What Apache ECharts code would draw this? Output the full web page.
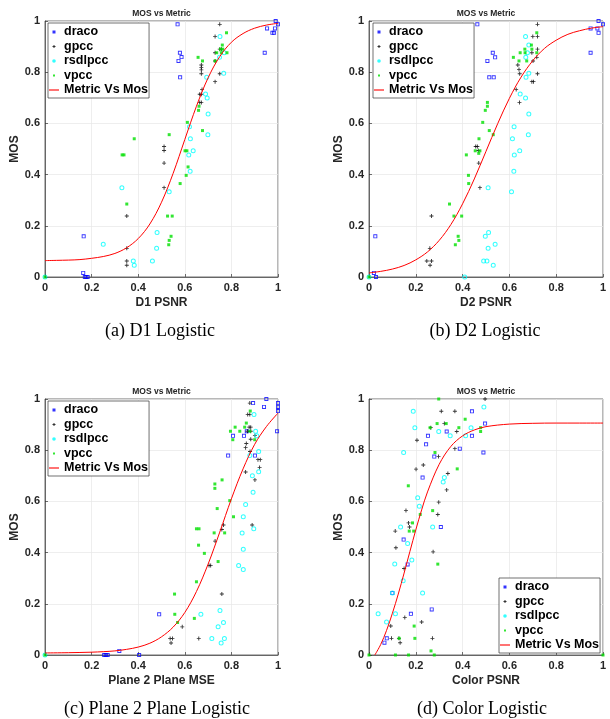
<!DOCTYPE html>
<html><head><meta charset="utf-8">
<script src="https://cdn.jsdelivr.net/npm/echarts@6/dist/echarts.min.js"></script>
<style>html,body{margin:0;padding:0;background:#fff}#c{width:610px;height:719px}</style>
</head><body><div id="c"></div><script>
// ---------- data ----------
const panelTitles = ['MOS vs Metric','MOS vs Metric','MOS vs Metric','MOS vs Metric'];
const xNames = ['D1 PSNR','D2 PSNR','Plane 2 Plane MSE','Color PSNR'];
const captions = ['(a) D1 Logistic','(b) D2 Logistic','(c) Plane 2 Plane Logistic','(d) Color Logistic'];
const seriesNames = ['draco','gpcc','rsdlpcc','vpcc'];
const curveName = 'Metric Vs Mos';
const tickValues = [0,0.2,0.4,0.6,0.8,1];

const aDraco = [[0.569,0.987],[0.579,0.876],[0.586,0.859],[0.573,0.844],[0.58,0.78],[0.99,1.0],[1.0,0.987],[0.953,0.971],[0.987,0.971],[0.976,0.954],[0.983,0.954],[0.943,0.876],[0.166,0.159],[0.164,0.016],[0.171,0],[0.177,0],[0.183,0]];
const aGpcc = [[0.75,0.987],[0.73,0.939],[0.75,0.89],[0.757,0.89],[0.73,0.876],[0.73,0.844],[0.671,0.828],[0.671,0.818],[0.671,0.809],[0.671,0.794],[0.75,0.794],[0.73,0.763],[0.674,0.732],[0.664,0.714],[0.671,0.714],[0.664,0.682],[0.671,0.682],[0.511,0.51],[0.511,0.494],[0.511,0.445],[0.511,0.349],[0.351,0.238],[0.351,0.112],[0.351,0.0625],[0.351,0.046]];
const aRsdlpcc = [[0.751,0.939],[0.749,0.858],[0.769,0.876],[0.767,0.796],[0.694,0.78],[0.689,0.715],[0.696,0.699],[0.7,0.637],[0.62,0.587],[0.699,0.556],[0.624,0.54],[0.636,0.493],[0.617,0.477],[0.623,0.413],[0.533,0.333],[0.33,0.349],[0.481,0.174],[0.479,0.112],[0.25,0.128],[0.379,0.0625],[0.383,0.046],[0.461,0.0625],[0,0]];
const aVpcc = [[0.779,0.954],[0.761,0.906],[0.753,0.89],[0.763,0.89],[0.737,0.876],[0.757,0.876],[0.781,0.876],[0.73,0.844],[0.676,0.844],[0.657,0.858],[0.661,0.667],[0.659,0.651],[0.611,0.604],[0.676,0.572],[0.533,0.556],[0.383,0.54],[0.331,0.477],[0.339,0.477],[0.601,0.493],[0.609,0.493],[0.614,0.43],[0.606,0.397],[0.58,0.365],[0.351,0.285],[0.526,0.238],[0.546,0.238],[0.541,0.159],[0.533,0.143],[0.531,0.126],[0,0]];
const aCurve = [[0,0.064],[0.05,0.065],[0.1,0.066],[0.15,0.068],[0.2,0.073],[0.25,0.080],[0.3,0.092],[0.35,0.114],[0.4,0.150],[0.45,0.207],[0.5,0.292],[0.55,0.405],[0.6,0.537],[0.65,0.667],[0.7,0.778],[0.75,0.861],[0.8,0.917],[0.85,0.951],[0.9,0.972],[0.95,0.984],[1,0.991]];

const bDraco = [[0.463,0.987],[0.529,0.876],[0.539,0.858],[0.506,0.844],[0.514,0.78],[0.533,0.78],[0.981,1.0],[1.0,0.987],[0.947,0.971],[0.976,0.971],[0.981,0.954],[0.947,0.876],[0.027,0.159],[0.021,0.016],[0.03,0]];
const bGpcc = [[0.72,0.987],[0.70,0.939],[0.72,0.939],[0.72,0.89],[0.696,0.876],[0.717,0.858],[0.701,0.844],[0.636,0.828],[0.641,0.811],[0.644,0.794],[0.72,0.794],[0.696,0.763],[0.703,0.763],[0.629,0.732],[0.643,0.682],[0.456,0.51],[0.463,0.51],[0.467,0.494],[0.469,0.445],[0.474,0.349],[0.267,0.238],[0.26,0.112],[0.247,0.0625],[0.267,0.0625],[0.261,0.046]];
const bRsdlpcc = [[0.669,0.939],[0.683,0.906],[0.67,0.858],[0.677,0.876],[0.683,0.796],[0.671,0.78],[0.646,0.715],[0.669,0.699],[0.683,0.637],[0.62,0.587],[0.681,0.556],[0.613,0.54],[0.644,0.493],[0.621,0.477],[0.619,0.413],[0.509,0.349],[0.609,0.333],[0.511,0.174],[0.497,0.159],[0.539,0.128],[0.509,0.112],[0.49,0.0625],[0.504,0.0625],[0.531,0.046],[0.409,0],[0,0]];
const bVpcc = [[0.717,0.954],[0.694,0.906],[0.666,0.89],[0.696,0.89],[0.617,0.858],[0.646,0.876],[0.667,0.876],[0.717,0.876],[0.641,0.844],[0.674,0.844],[0.506,0.682],[0.506,0.667],[0.497,0.651],[0.486,0.604],[0.514,0.572],[0.531,0.556],[0.47,0.54],[0.416,0.477],[0.454,0.493],[0.474,0.493],[0.469,0.483],[0.425,0.397],[0.426,0.365],[0.344,0.285],[0.363,0.238],[0.396,0.238],[0.381,0.159],[0.384,0.143],[0.369,0.126],[0,0]];
const bCurve = [[0,0.016],[0.05,0.022],[0.1,0.031],[0.15,0.045],[0.2,0.067],[0.25,0.098],[0.3,0.143],[0.35,0.205],[0.4,0.286],[0.45,0.383],[0.5,0.491],[0.55,0.599],[0.6,0.698],[0.65,0.781],[0.7,0.845],[0.75,0.893],[0.8,0.925],[0.85,0.948],[0.9,0.962],[0.95,0.972],[1,0.978]];

const cDraco = [[0.95,1.0],[1.0,0.984],[0.94,0.969],[1.0,0.969],[1.0,0.953],[0.893,0.984],[0.996,0.874],[0.866,0.874],[0.807,0.856],[0.854,0.856],[0.786,0.779],[0.901,0.779],[0.49,0.159],[0.319,0.016],[0.254,0],[0.261,0],[0.269,0],[0.404,0]];
const cGpcc = [[0.879,0.984],[0.87,0.939],[0.879,0.939],[0.876,0.89],[0.883,0.89],[0.869,0.874],[0.883,0.874],[0.901,0.857],[0.883,0.843],[0.864,0.826],[0.861,0.81],[0.88,0.795],[0.914,0.763],[0.924,0.763],[0.921,0.732],[0.861,0.715],[0.901,0.684],[0.766,0.508],[0.889,0.508],[0.759,0.49],[0.73,0.445],[0.704,0.35],[0.711,0.35],[0.759,0.238],[0.589,0.11],[0.537,0.064],[0.547,0.064],[0.541,0.047],[0.66,0.064]];
const cRsdlpcc = [[0.897,0.939],[0.904,0.874],[0.909,0.856],[0.879,0.779],[0.917,0.795],[0.917,0.716],[0.89,0.7],[0.893,0.636],[0.861,0.588],[0.851,0.54],[0.896,0.493],[0.846,0.477],[0.851,0.413],[0.831,0.35],[0.851,0.334],[0.751,0.174],[0.669,0.159],[0.766,0.127],[0.743,0.11],[0.716,0.064],[0.77,0.064],[0.756,0.047],[0,0]];
const cVpcc = [[0.881,0.953],[0.864,0.906],[0.816,0.89],[0.857,0.89],[0.796,0.874],[0.836,0.874],[0.879,0.874],[0.806,0.841],[0.9,0.841],[0.76,0.684],[0.729,0.668],[0.729,0.651],[0.793,0.603],[0.739,0.572],[0.809,0.54],[0.65,0.493],[0.661,0.493],[0.726,0.477],[0.771,0.477],[0.659,0.429],[0.684,0.397],[0.743,0.365],[0.65,0.286],[0.556,0.238],[0.557,0.159],[0.641,0.143],[0.569,0.127],[0,0]];
const cCurve = [[0,0.008],[0.1,0.009],[0.2,0.011],[0.25,0.013],[0.3,0.016],[0.35,0.022],[0.4,0.031],[0.45,0.046],[0.5,0.071],[0.55,0.109],[0.6,0.166],[0.65,0.248],[0.7,0.355],[0.75,0.48],[0.8,0.61],[0.85,0.727],[0.9,0.823],[0.95,0.892],[1,0.945]];

const dDraco = [[0.44,0.952],[0.496,0.904],[0.332,0.873],[0.252,0.856],[0.44,0.856],[0.244,0.823],[0.388,0.806],[0.489,0.791],[0.279,0.775],[0.229,0.693],[0.307,0.5],[0.148,0.451],[0.165,0.354],[0.1,0.242],[0.179,0.161],[0.268,0.178],[0.076,0.065],[0.066,0.048]];
const dGpcc = [[0.496,1.0],[0.309,0.952],[0.367,0.952],[0.322,0.904],[0.264,0.888],[0.375,0.873],[0.205,0.839],[0.367,0.806],[0.297,0.775],[0.232,0.742],[0.201,0.726],[0.337,0.709],[0.332,0.645],[0.298,0.597],[0.158,0.564],[0.294,0.549],[0.169,0.516],[0.173,0.5],[0.112,0.484],[0.115,0.419],[0.274,0.403],[0.15,0.338],[0.153,0.146],[0.225,0.129],[0.093,0.113],[0.096,0.065],[0.128,0.065],[0.271,0.065],[0.133,0.048]];
const dRsdlpcc = [[0.491,0.969],[0.189,0.952],[0.196,0.888],[0.298,0.873],[0.347,0.856],[0.413,0.856],[0.436,0.888],[0.148,0.791],[0.322,0.693],[0.317,0.676],[0.208,0.614],[0.215,0.581],[0.135,0.5],[0.272,0.5],[0.165,0.436],[0.183,0.371],[0.11,0.355],[0.146,0.29],[0.1,0.242],[0.229,0.242],[0.039,0.161],[0.113,0.161],[0.075,0.129]];
const dVpcc = [[0.298,1.0],[0.411,0.921],[0.291,0.904],[0.33,0.904],[0.384,0.888],[0.261,0.888],[0.477,0.888],[0.477,0.873],[0.282,0.791],[0.377,0.727],[0.168,0.661],[0.272,0.564],[0.219,0.549],[0.186,0.516],[0.191,0.484],[0.172,0.484],[0.294,0.355],[0.193,0.113],[0.129,0.065],[0.196,0.065],[0.265,0.016],[0.113,0],[0.169,0],[0.279,0],[1.0,0],[0,0]];
const dCurve = [[0.025,0],[0.05,0.041],[0.075,0.096],[0.1,0.163],[0.125,0.238],[0.15,0.32],[0.175,0.405],[0.2,0.489],[0.225,0.567],[0.25,0.637],[0.3,0.745],[0.35,0.815],[0.4,0.856],[0.45,0.879],[0.5,0.892],[0.6,0.902],[0.7,0.905],[0.8,0.906],[0.9,0.906],[1,0.906]];

// ---------- build ----------
const panels = [
  {pts:[aDraco,aGpcc,aRsdlpcc,aVpcc], curve:aCurve},
  {pts:[bDraco,bGpcc,bRsdlpcc,bVpcc], curve:bCurve},
  {pts:[cDraco,cGpcc,cRsdlpcc,cVpcc], curve:cCurve},
  {pts:[dDraco,dGpcc,dRsdlpcc,dVpcc], curve:dCurve}
];
const FONT = '"Liberation Sans", Arial, Helvetica, sans-serif';
const TXT = '#262626';
const gridBoxes = [
  {left:45, top:21, width:233, height:256},
  {left:369, top:21, width:234, height:256},
  {left:45, top:399, width:233, height:256},
  {left:369, top:399, width:234, height:256}
];
const legendBoxes = [{left:48,top:23},{left:373,top:23},{left:48,top:401},{left:499,top:578}];
const captionPos = [[160,331],[485,331],[157,709],[482,709]];

const markerStyles = [
  {symbol:'path://M0,0L4,0L4,4L0,4Z M0.9,0.9L0.9,3.1L3.1,3.1L3.1,0.9Z', symbolSize:4, itemStyle:{color:'#0000ff'}},
  {symbol:'path://M1.55,0L2.45,0L2.45,1.55L4,1.55L4,2.45L2.45,2.45L2.45,4L1.55,4L1.55,2.45L0,2.45L0,1.55L1.55,1.55Z', symbolSize:4, itemStyle:{color:'#000'}},
  {symbol:'path://M0,2.5A2.5,2.5 0 1 1 5,2.5A2.5,2.5 0 1 1 0,2.5Z M1,2.5A1.5,1.5 0 1 0 4,2.5A1.5,1.5 0 1 0 1,2.5Z', symbolSize:5, itemStyle:{color:'#00ffff'}},
  {symbol:'rect', symbolSize:3, itemStyle:{color:'#00e000'}}
];
const legendIcons = [
  'path://M0,0M10,14M3.5,5.5L6.5,5.5L6.5,8.5L3.5,8.5Z',
  'path://M0,0M10,14M4.5,5.5L5.5,5.5L5.5,6.5L6.5,6.5L6.5,7.5L5.5,7.5L5.5,8.5L4.5,8.5L4.5,7.5L3.5,7.5L3.5,6.5L4.5,6.5Z',
  'path://M0,0M10,14M3.2,7A1.8,1.8 0 1 1 6.8,7A1.8,1.8 0 1 1 3.2,7Z',
  'path://M0,0M10,14M4,6L6,6L6,8L4,8Z'
];
const curveIcon = 'path://M0,0M10,14M0,6.2L10,6.2L10,7.8L0,7.8Z';

const grid = gridBoxes.map(g => Object.assign({show:true, borderColor:'#333', borderWidth:0.7, backgroundColor:'#fff', outerBoundsMode:'none', containLabel:false}, g));

const axisCommon = {
  type:'value', min:0, max:1, interval:0.2,
  axisLine:{show:true, onZero:false, lineStyle:{color:'#333', width:0.7}},
  axisTick:{show:true, inside:true, length:3, lineStyle:{color:'#333', width:0.7}},
  axisLabel:{fontFamily:FONT, fontWeight:'bold', fontSize:11, color:TXT, margin:5,
    formatter: v => { const t = tickValues.find(k => Math.abs(k - v) < 1e-9); return t === undefined ? '' : String(t); }},
  splitLine:{show:true, lineStyle:{color:'#e6e6e6', width:0.7}},
  nameLocation:'middle',
  nameTextStyle:{fontFamily:FONT, fontWeight:'bold', fontSize:12, color:TXT}
};
const xAxis = xNames.map((n,i) => Object.assign({}, axisCommon, {gridIndex:i, name:n, nameGap:20}));
const yAxis = xNames.map((n,i) => Object.assign({}, axisCommon, {gridIndex:i, name:'MOS', nameGap:20}));

const title = panelTitles.map((t,i) => ({
  text:t, left: gridBoxes[i].left + gridBoxes[i].width/2, top: gridBoxes[i].top - 12,
  textAlign:'center', padding:0,
  textStyle:{fontFamily:FONT, fontWeight:'bold', fontSize:8.5, color:TXT}
}));

const legendData = seriesNames.map((n,k) => ({name:n, icon:legendIcons[k], itemStyle:{borderWidth:0}}))
  .concat([{name:curveName, icon:curveIcon, itemStyle:{color:'#ff5050', borderWidth:0}}]);
const legend = legendBoxes.map(b => ({
  orient:'vertical', left:b.left, top:b.top, data:legendData,
  itemWidth:10, itemHeight:14, itemGap:0.5, padding:[2,1,1,1],
  backgroundColor:'#fff', borderColor:'#333', borderWidth:0.7, selectedMode:false,
  textStyle:{fontFamily:FONT, fontWeight:'bold', fontSize:12.5, color:'#000', lineHeight:14}
}));

const series = [];
panels.forEach((p,i) => {
  p.pts.forEach((arr,k) => {
    series.push(Object.assign({type:'scatter', name:seriesNames[k], xAxisIndex:i, yAxisIndex:i, data:arr, z:2, silent:true}, markerStyles[k]));
  });
  series.push({type:'line', name:curveName, xAxisIndex:i, yAxisIndex:i, data:p.curve,
    smooth:0.35, showSymbol:false, symbol:'none', z:3, silent:true,
    lineStyle:{color:'#ff0000', width:1}, itemStyle:{color:'#ff0000'}});
});

const graphic = captions.map((c,i) => ({
  type:'text', x:captionPos[i][0], y:captionPos[i][1], silent:true,
  style:{text:c, fill:'#000', font:'18px "Liberation Serif", "Times New Roman", serif',
    textAlign:'center', textVerticalAlign:'middle', align:'center', verticalAlign:'middle'}
}));

const chart = echarts.init(document.getElementById('c'), null, {renderer:'canvas'});
chart.setOption({animation:false, backgroundColor:'#fff', title, legend, grid, xAxis, yAxis, series, graphic});
</script></body></html>
